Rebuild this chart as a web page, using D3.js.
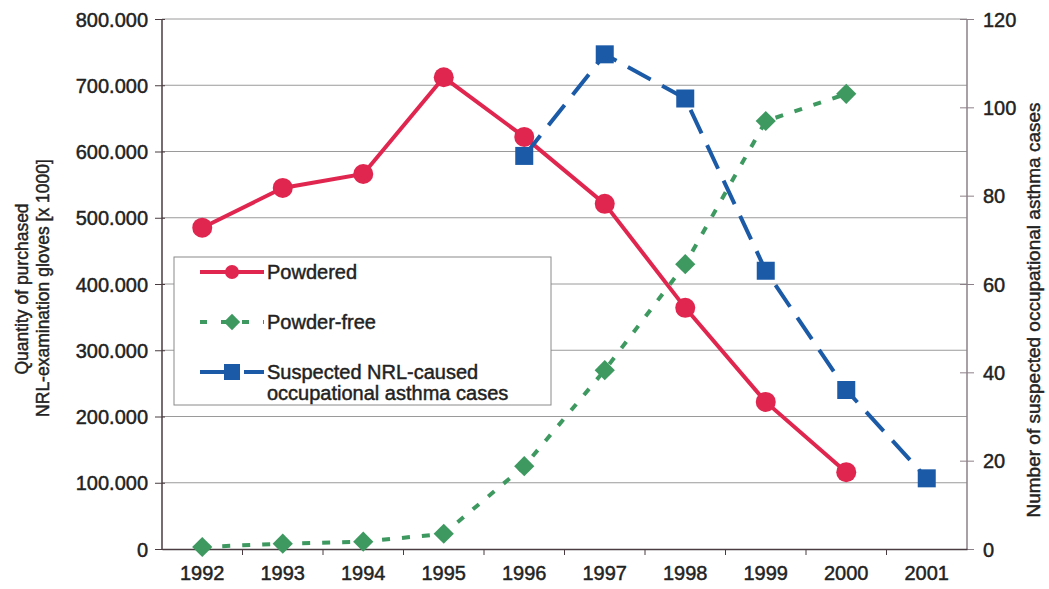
<!DOCTYPE html>
<html>
<head>
<meta charset="utf-8">
<script src="https://cdn.jsdelivr.net/npm/d3@7"></script>
<style>
  body { margin: 0; background: #fff; }
  text { font-family: "Liberation Sans", Arial, sans-serif; fill: #222; stroke: #222; stroke-width: 0.45px; }
</style>
</head>
<body>
<div id="chart"></div>
<script>
// Data (gloves in thousands, asthma in cases)
var years = ['1992', '1993', '1994', '1995', '1996', '1997', '1998', '1999', '2000', '2001']
var powdered = [485000, 545000, 566000, 712000, 622000, 521000, 364000, 222000, 116000, null]
var powderFree = [3000, 8000, 11000, 23000, 125000, 270000, 430000, 646000, 687000, null]
var asthma = [null, null, null, null, 89, 112, 102, 63, 36, 16]
var leftTicks = [0, 100000, 200000, 300000, 400000, 500000, 600000, 700000, 800000]
var rightTicks = [0, 20, 40, 60, 80, 100, 120]

var red = '#e0264f', green = '#3d9960', blue = '#1b5aa6'

var W = 1049, H = 589
var margin = { top: 19, right: 82, bottom: 40, left: 162 }
var width = W - margin.left - margin.right
var height = H - margin.top - margin.bottom

var svg = d3.select('#chart').append('svg')
  .attr('width', W).attr('height', H)
var g = svg.append('g')
  .attr('transform', 'translate(' + margin.left + ',' + margin.top + ')')

var x = d3.scaleBand().domain(years).range([0, width])
var yL = d3.scaleLinear().domain([0, 800000]).range([height, 0])
var yR = d3.scaleLinear().domain([0, 120]).range([height, 0])
var cx = function (d, i) { return x(years[i]) + x.bandwidth() / 2 }

// gridlines
g.append('g').selectAll('line').data(leftTicks.slice(1)).enter().append('line')
  .attr('x1', 0).attr('x2', width)
  .attr('y1', d => yL(d)).attr('y2', d => yL(d))
  .attr('stroke', '#9a9a9a').attr('stroke-width', 1)

// left axis, dots as thousands separator
var axL = g.append('g')
  .call(d3.axisLeft(yL).tickValues(leftTicks).tickSize(7)
    .tickFormat(d => d3.format(',')(d).replace(/,/g, '.')))
axL.select('.domain').attr('stroke', '#4a3c40').attr('stroke-width', 1.5)
  .attr('d', 'M0,' + height + 'V0')
axL.selectAll('.tick line').attr('stroke', '#4a3c40').attr('x2', -7).attr('x1', 3)
axL.selectAll('.tick text').attr('font-size', 20).attr('x', -14).attr('dy', '0.35em')

// right axis
var axR = g.append('g').attr('transform', 'translate(' + width + ',0)')
  .call(d3.axisRight(yR).tickValues(rightTicks).tickSize(7))
axR.select('.domain').attr('stroke', '#8c8088').attr('stroke-width', 1.5).attr('d', 'M0,0V' + height)
axR.selectAll('.tick line').attr('stroke', '#8c8088').attr('x1', -7).attr('x2', 7)
axR.selectAll('.tick text').attr('font-size', 20).attr('x', 16).attr('dy', '0.35em')

// bottom axis with ticks between categories
var axB = g.append('g').attr('transform', 'translate(0,' + height + ')')
  .call(d3.axisBottom(x).tickSize(0).tickPadding(17))
axB.select('.domain').attr('stroke', '#4a3c40').attr('stroke-width', 1.5)
axB.selectAll('.tick text').attr('font-size', 20)
g.append('g').selectAll('line').data(years.slice(1)).enter().append('line')
  .attr('x1', d => x(d)).attr('x2', d => x(d))
  .attr('y1', height).attr('y2', height + 6)
  .attr('stroke', '#4a3c40')

// axis titles
svg.append('text')
  .attr('transform', 'translate(28,289) rotate(-90)')
  .attr('text-anchor', 'middle').attr('font-size', 17.5)
  .text('Quantity of purchased')
svg.append('text')
  .attr('transform', 'translate(49,288) rotate(-90)')
  .attr('text-anchor', 'middle').attr('font-size', 17.5)
  .text('NRL-examination gloves [x 1000]')
svg.append('text')
  .attr('transform', 'translate(1040,310) rotate(-90)')
  .attr('text-anchor', 'middle').attr('font-size', 19)
  .text('Number of suspected occupational asthma cases')

// series
function drawLine(values, scale, color, dash) {
  var pts = values.map((v, i) => [cx(v, i), v])
  var line = d3.line().defined(d => d[1] != null)
    .x(d => d[0]).y(d => scale(d[1]))
  g.append('path').datum(pts)
    .attr('d', line).attr('fill', 'none')
    .attr('stroke', color).attr('stroke-width', 4)
    .attr('stroke-dasharray', dash)
  return pts.filter(d => d[1] != null)
}

var redPts = drawLine(powdered, yL, red, null)
g.selectAll('.red-dot').data(redPts).enter().append('circle')
  .attr('cx', d => d[0]).attr('cy', d => yL(d[1])).attr('r', 10)
  .attr('fill', red)

var bluePts = drawLine(asthma, yR, blue, '26,13')
g.selectAll('.blue-sq').data(bluePts).enter().append('rect')
  .attr('x', d => d[0] - 9).attr('y', d => yR(d[1]) - 9)
  .attr('width', 18).attr('height', 18).attr('fill', blue)

var greenPts = drawLine(powderFree, yL, green, '8,12')
g.selectAll('.green-dia').data(greenPts).enter().append('path')
  .attr('d', d3.symbol().type(d3.symbolDiamond2).size(260))
  .attr('transform', d => 'translate(' + d[0] + ',' + yL(d[1]) + ')')
  .attr('fill', green)

// legend
var lg = svg.append('g').attr('transform', 'translate(174,257)')
lg.append('rect').attr('width', 377).attr('height', 148)
  .attr('fill', '#fff').attr('stroke', '#8a8a8a').attr('stroke-width', 1)

var row1 = 15, row2 = 65, row3 = 115
lg.append('line').attr('x1', 26).attr('x2', 90).attr('y1', row1).attr('y2', row1)
  .attr('stroke', red).attr('stroke-width', 4)
lg.append('circle').attr('cx', 58).attr('cy', row1).attr('r', 7).attr('fill', red)
lg.append('text').attr('x', 93).attr('y', row1).attr('dy', '0.35em').attr('font-size', 20).text('Powdered')

lg.append('line').attr('x1', 26).attr('x2', 90).attr('y1', row2).attr('y2', row2)
  .attr('stroke', green).attr('stroke-width', 4).attr('stroke-dasharray', '7,14')
lg.append('path').attr('d', d3.symbol().type(d3.symbolDiamond2).size(170))
  .attr('transform', 'translate(58,' + row2 + ')').attr('fill', green)
lg.append('text').attr('x', 93).attr('y', row2).attr('dy', '0.35em').attr('font-size', 20).text('Powder-free')

lg.append('line').attr('x1', 26).attr('x2', 90).attr('y1', row3).attr('y2', row3)
  .attr('stroke', blue).attr('stroke-width', 4).attr('stroke-dasharray', '32,12')
lg.append('rect').attr('x', 50).attr('y', row3 - 8).attr('width', 16).attr('height', 16).attr('fill', blue)
lg.append('text').attr('x', 93).attr('y', row3).attr('dy', '0.35em').attr('font-size', 20).text('Suspected NRL-caused')
lg.append('text').attr('x', 93).attr('y', row3 + 21).attr('dy', '0.35em').attr('font-size', 20).text('occupational asthma cases')
</script>
</body>
</html>
